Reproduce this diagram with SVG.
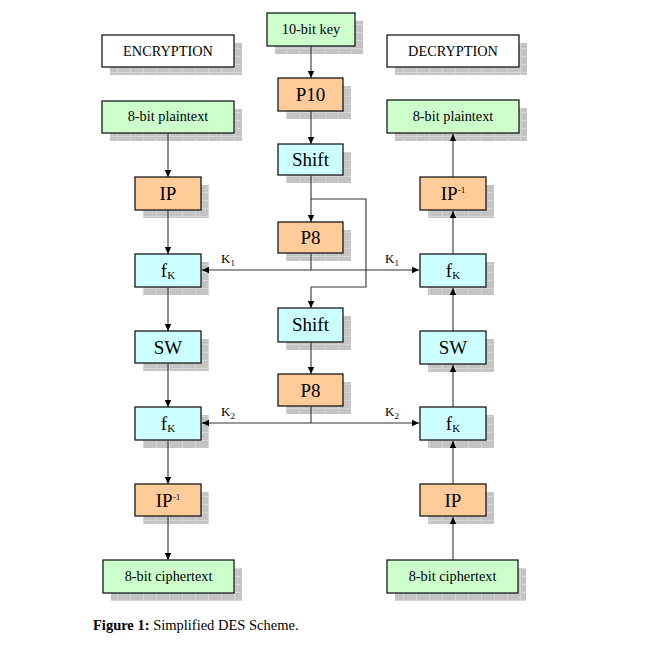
<svg xmlns="http://www.w3.org/2000/svg" width="649" height="647" viewBox="0 0 649 647">
  <defs>
    <pattern id="grid" patternUnits="userSpaceOnUse" x="0" y="0" width="13" height="8">
      <rect width="13" height="8" fill="#c4c4c4"/>
      <path d="M0 0.5H13M0.5 0V8" stroke="#d6d6d6" stroke-width="1"/>
    </pattern>
    <marker id="arrow" markerUnits="userSpaceOnUse" markerWidth="8" markerHeight="8" refX="7" refY="4" orient="auto">
      <path d="M0,0.8 L7,4 L0,7.2 Z" fill="#000"/>
    </marker>
  </defs>
  <style>
    .shadow { fill: url(#grid); }
    .box { stroke: #1a1a1a; stroke-width: 1.3; }
    .white { fill: #ffffff; }
    .green { fill: #ccffcc; }
    .orange { fill: #ffcc99; }
    .cyan { fill: #ccffff; }
    text { font-family: "Liberation Serif", "Times New Roman", serif; fill: #000; text-anchor: middle; }
    .sm { font-size: 14.3px; }
    .lg { font-size: 19px; }
    .lbl { font-size: 13px; text-anchor: start; }
    .wire { fill: none; stroke: #333; stroke-width: 1.1; }
    .arr { fill: none; stroke: #333; stroke-width: 1.1; marker-end: url(#arrow); }
  </style>

  <rect width="649" height="647" fill="#ffffff"/>

  <!-- key schedule column -->
  <g id="key">
    <rect class="shadow" x="275" y="21" width="88" height="33"/>
    <rect class="box green" x="267" y="13" width="88" height="33"/>
    <text class="sm" x="311" y="34">10-bit key</text>
  </g>
  <g id="p10">
    <rect class="shadow" x="286" y="86" width="65" height="33"/>
    <rect class="box orange" x="278" y="78" width="65" height="33"/>
    <text class="lg" x="310.5" y="101">P10</text>
  </g>
  <g id="shift1">
    <rect class="shadow" x="286" y="152" width="65" height="31"/>
    <rect class="box cyan" x="278" y="144" width="65" height="31"/>
    <text class="lg" x="310.5" y="166">Shift</text>
  </g>
  <g id="p8a">
    <rect class="shadow" x="286" y="230" width="65" height="31"/>
    <rect class="box orange" x="278" y="222" width="65" height="31"/>
    <text class="lg" x="310.5" y="244">P8</text>
  </g>
  <g id="shift2">
    <rect class="shadow" x="286" y="316" width="65" height="34"/>
    <rect class="box cyan" x="278" y="308" width="65" height="34"/>
    <text class="lg" x="310.5" y="331">Shift</text>
  </g>
  <g id="p8b">
    <rect class="shadow" x="286" y="382" width="65" height="32"/>
    <rect class="box orange" x="278" y="374" width="65" height="32"/>
    <text class="lg" x="310.5" y="397">P8</text>
  </g>

  <!-- encryption column -->
  <g id="enc-title">
    <rect class="shadow" x="110" y="43" width="132" height="32"/>
    <rect class="box white" x="102" y="35" width="132" height="32"/>
    <text class="sm" x="168" y="56">ENCRYPTION</text>
  </g>
  <g id="enc-plain">
    <rect class="shadow" x="110" y="109" width="132" height="32"/>
    <rect class="box green" x="102" y="101" width="132" height="32"/>
    <text class="sm" x="168" y="121">8-bit plaintext</text>
  </g>
  <g id="enc-ip">
    <rect class="shadow" x="143" y="185" width="66" height="33"/>
    <rect class="box orange" x="135" y="177" width="66" height="33"/>
    <text class="lg" x="168" y="200">IP</text>
  </g>
  <g id="enc-fk1">
    <rect class="shadow" x="143" y="262" width="66" height="33"/>
    <rect class="box cyan" x="135" y="254" width="66" height="33"/>
    <text class="lg" x="168" y="277">f<tspan font-size="11" dy="2">K</tspan></text>
  </g>
  <g id="enc-sw">
    <rect class="shadow" x="143" y="339" width="66" height="32"/>
    <rect class="box cyan" x="135" y="331" width="66" height="32"/>
    <text class="lg" x="168" y="354">SW</text>
  </g>
  <g id="enc-fk2">
    <rect class="shadow" x="143" y="415" width="66" height="33"/>
    <rect class="box cyan" x="135" y="407" width="66" height="33"/>
    <text class="lg" x="168" y="430">f<tspan font-size="11" dy="2">K</tspan></text>
  </g>
  <g id="enc-ipinv">
    <rect class="shadow" x="143" y="492" width="66" height="32"/>
    <rect class="box orange" x="135" y="484" width="66" height="32"/>
    <text class="lg" x="168" y="507">IP<tspan font-size="9" dy="-7">-1</tspan></text>
  </g>
  <g id="enc-cipher">
    <rect class="shadow" x="111" y="568" width="131" height="33"/>
    <rect class="box green" x="103" y="560" width="131" height="33"/>
    <text class="sm" x="168.5" y="581">8-bit ciphertext</text>
  </g>

  <!-- decryption column -->
  <g id="dec-title">
    <rect class="shadow" x="395" y="43" width="132" height="32"/>
    <rect class="box white" x="387" y="35" width="132" height="32"/>
    <text class="sm" x="453" y="56">DECRYPTION</text>
  </g>
  <g id="dec-plain">
    <rect class="shadow" x="395" y="108" width="132" height="33"/>
    <rect class="box green" x="387" y="100" width="132" height="33"/>
    <text class="sm" x="453" y="121">8-bit plaintext</text>
  </g>
  <g id="dec-ipinv">
    <rect class="shadow" x="428" y="185" width="66" height="33"/>
    <rect class="box orange" x="420" y="177" width="66" height="33"/>
    <text class="lg" x="453" y="200">IP<tspan font-size="9" dy="-7">-1</tspan></text>
  </g>
  <g id="dec-fk1">
    <rect class="shadow" x="428" y="262" width="66" height="33"/>
    <rect class="box cyan" x="420" y="254" width="66" height="33"/>
    <text class="lg" x="453" y="277">f<tspan font-size="11" dy="2">K</tspan></text>
  </g>
  <g id="dec-sw">
    <rect class="shadow" x="428" y="339" width="66" height="33"/>
    <rect class="box cyan" x="420" y="331" width="66" height="33"/>
    <text class="lg" x="453" y="354">SW</text>
  </g>
  <g id="dec-fk2">
    <rect class="shadow" x="428" y="415" width="66" height="33"/>
    <rect class="box cyan" x="420" y="407" width="66" height="33"/>
    <text class="lg" x="453" y="430">f<tspan font-size="11" dy="2">K</tspan></text>
  </g>
  <g id="dec-ip">
    <rect class="shadow" x="428" y="492" width="66" height="32"/>
    <rect class="box orange" x="420" y="484" width="66" height="32"/>
    <text class="lg" x="453" y="507">IP</text>
  </g>
  <g id="dec-cipher">
    <rect class="shadow" x="395" y="568" width="131" height="33"/>
    <rect class="box green" x="387" y="560" width="131" height="33"/>
    <text class="sm" x="452.5" y="581">8-bit ciphertext</text>
  </g>

  <!-- connectors, drawn over the box shadows so arrowheads stay visible -->
  <g id="connectors">
    <!-- key schedule -->
    <line class="arr" x1="311" y1="46" x2="311" y2="78"/>
    <line class="arr" x1="311" y1="111" x2="311" y2="144"/>
    <polyline class="wire" points="311,175 311,199 366,199 366,287 311,287"/>
    <line class="arr" x1="311" y1="199" x2="311" y2="222"/>
    <line class="arr" x1="311" y1="287" x2="311" y2="308"/>
    <line class="arr" x1="311" y1="342" x2="311" y2="374"/>
    <line class="wire" x1="311" y1="253" x2="311" y2="270"/>
    <line class="arr" x1="311" y1="270" x2="202" y2="270"/>
    <line class="arr" x1="311" y1="270" x2="419" y2="270"/>
    <line class="wire" x1="311" y1="406" x2="311" y2="423"/>
    <line class="arr" x1="311" y1="423" x2="202" y2="423"/>
    <line class="arr" x1="311" y1="423" x2="419" y2="423"/>
    <!-- encryption path -->
    <line class="arr" x1="168" y1="133" x2="168" y2="177"/>
    <line class="arr" x1="168" y1="210" x2="168" y2="254"/>
    <line class="arr" x1="168" y1="287" x2="168" y2="331"/>
    <line class="arr" x1="168" y1="363" x2="168" y2="407"/>
    <line class="arr" x1="168" y1="440" x2="168" y2="484"/>
    <line class="arr" x1="168" y1="516" x2="168" y2="560"/>
    <!-- decryption path -->
    <line class="arr" x1="453" y1="560" x2="453" y2="517"/>
    <line class="arr" x1="453" y1="484" x2="453" y2="441"/>
    <line class="arr" x1="453" y1="407" x2="453" y2="365"/>
    <line class="arr" x1="453" y1="331" x2="453" y2="288"/>
    <line class="arr" x1="453" y1="254" x2="453" y2="211"/>
    <line class="arr" x1="453" y1="177" x2="453" y2="134"/>
    <!-- subkey labels -->
    <text class="lbl" x="221" y="263">K<tspan font-size="9" dy="3">1</tspan></text>
    <text class="lbl" x="385" y="263">K<tspan font-size="9" dy="3">1</tspan></text>
    <text class="lbl" x="221" y="416">K<tspan font-size="9" dy="3">2</tspan></text>
    <text class="lbl" x="385" y="416">K<tspan font-size="9" dy="3">2</tspan></text>
  </g>

  <!-- caption -->
  <text x="93" y="630" style="font-size:14.5px; text-anchor:start"><tspan font-weight="bold">Figure 1:</tspan> Simplified DES Scheme.</text>
</svg>
